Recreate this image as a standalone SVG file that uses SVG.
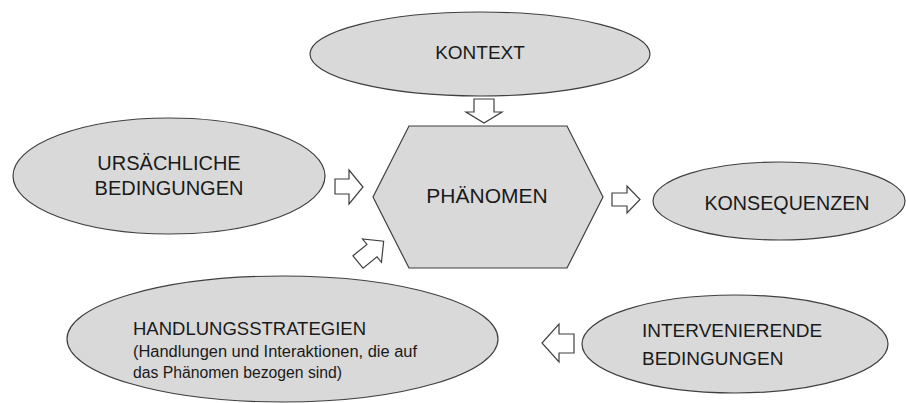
<svg xmlns="http://www.w3.org/2000/svg" width="906" height="403" viewBox="0 0 906 403">
<style>
.shape{fill:#d9d9d9;stroke:#3f3f3f;stroke-width:1.2}
.arrow{fill:#ffffff;stroke:#3f3f3f;stroke-width:1.2;stroke-linejoin:miter}
text{font-family:"Liberation Sans",Arial,sans-serif;fill:#1a1a1a}
.c{text-anchor:middle}
</style>
<rect width="906" height="403" fill="#ffffff"/>
<g id="connectors">
<polygon class="arrow" points="474,99 494,99 494,112 502,112 484,123 466,112 474,112"/>
<polygon class="arrow" points="335,179 349,179 349,170 363,187 349,204 349,194 335,194"/>
<polygon class="arrow" points="612,193 627,193 627,186 640,199.5 627,213 627,206 612,206"/>
<polygon class="arrow" points="574,334 559,334 559,324 542,343 559,362 559,353 574,353"/>
<polygon class="arrow" transform="translate(358,262) rotate(-39)" points="0,-8 18,-8 18,-15 33,0 18,15 18,8 0,8"/>
</g>
<g id="kontext">
<ellipse class="shape" cx="480" cy="54" rx="170" ry="42"/>
<text class="c" x="480" y="59" font-size="19">KONTEXT</text>
</g>
<g id="phaenomen">
<polygon class="shape" points="409,126 567,126 603,197 567,268 409,268 373,197"/>
<text class="c" x="487" y="203" font-size="21">PHÄNOMEN</text>
</g>
<g id="ursaechliche">
<ellipse class="shape" cx="169" cy="176" rx="156" ry="58"/>
<text class="c" x="169" y="170" font-size="20">URSÄCHLICHE</text>
<text class="c" x="169" y="195" font-size="20">BEDINGUNGEN</text>
</g>
<g id="konsequenzen">
<ellipse class="shape" cx="779" cy="201" rx="126" ry="39"/>
<text class="c" x="787" y="210" font-size="19.7">KONSEQUENZEN</text>
</g>
<g id="handlungsstrategien">
<ellipse class="shape" cx="282.5" cy="339" rx="215.5" ry="63"/>
<text x="133" y="335" font-size="18.5">HANDLUNGSSTRATEGIEN</text>
<text x="133" y="357" font-size="16" textLength="284" lengthAdjust="spacingAndGlyphs">(Handlungen und Interaktionen, die auf</text>
<text x="133" y="378" font-size="16" textLength="209" lengthAdjust="spacingAndGlyphs">das Phänomen bezogen sind)</text>
</g>
<g id="intervenierende">
<ellipse class="shape" cx="735" cy="344" rx="153" ry="49"/>
<text x="642" y="337" font-size="19">INTERVENIERENDE</text>
<text x="642" y="365" font-size="19">BEDINGUNGEN</text>
</g>
</svg>
